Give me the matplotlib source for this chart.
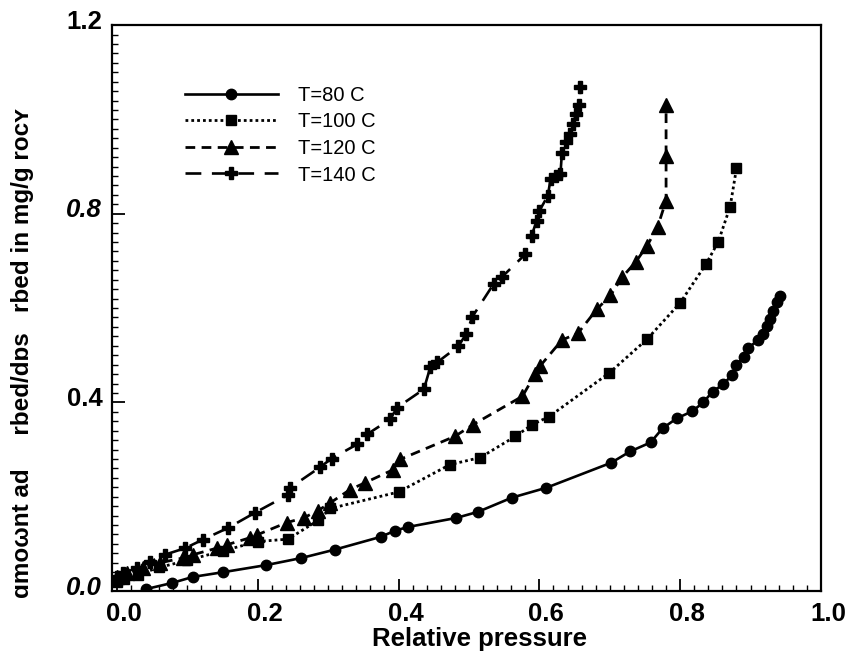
import numpy as np
import matplotlib.pyplot as plt
import matplotlib.transforms as mtransforms
from matplotlib.ticker import MultipleLocator

plt.rcParams['font.family'] = ['Liberation Sans', 'DejaVu Sans']

# T = 80 C
p80 = [0.041, 0.078, 0.108, 0.151, 0.212, 0.262, 0.310, 0.375, 0.395, 0.414,
       0.482, 0.513, 0.561, 0.610, 0.702, 0.729, 0.758, 0.775, 0.795, 0.817,
       0.833, 0.846, 0.861, 0.873, 0.880, 0.890, 0.897, 0.910, 0.917, 0.924,
       0.928, 0.932, 0.937, 0.942]
q80 = [0.004, 0.017, 0.030, 0.040, 0.055, 0.070, 0.088, 0.115, 0.128, 0.136,
       0.155, 0.168, 0.198, 0.219, 0.272, 0.296, 0.315, 0.345, 0.366, 0.381,
       0.400, 0.423, 0.438, 0.457, 0.479, 0.496, 0.515, 0.532, 0.545, 0.562,
       0.577, 0.594, 0.613, 0.626]

# T = 100 C
p100 = [0.000, 0.010, 0.030, 0.060, 0.100, 0.150, 0.200, 0.243, 0.286, 0.303,
        0.400, 0.473, 0.516, 0.566, 0.590, 0.614, 0.699, 0.753, 0.800, 0.837,
        0.854, 0.871, 0.880]
q100 = [0.020, 0.025, 0.035, 0.050, 0.065, 0.085, 0.105, 0.110, 0.150, 0.175,
        0.210, 0.268, 0.283, 0.328, 0.353, 0.370, 0.462, 0.534, 0.611, 0.694,
        0.740, 0.815, 0.896]

# T = 120 C
p120 = [0.000, 0.014, 0.037, 0.061, 0.094, 0.108, 0.142, 0.156, 0.189, 0.199,
        0.241, 0.265, 0.285, 0.303, 0.331, 0.353, 0.392, 0.402, 0.480, 0.506,
        0.576, 0.594, 0.601, 0.632, 0.655, 0.682, 0.701, 0.718, 0.737, 0.753,
        0.768, 0.780, 0.780, 0.780]
q120 = [0.030, 0.038, 0.049, 0.060, 0.070, 0.077, 0.091, 0.098, 0.113, 0.119,
        0.145, 0.155, 0.170, 0.187, 0.215, 0.230, 0.257, 0.279, 0.328, 0.353,
        0.413, 0.460, 0.477, 0.532, 0.547, 0.598, 0.627, 0.666, 0.698, 0.732,
        0.772, 0.828, 0.923, 1.030]

# T = 140 C
p140 = [0.000, 0.009, 0.028, 0.047, 0.068, 0.097, 0.122, 0.158, 0.196, 0.243,
        0.246, 0.288, 0.305, 0.341, 0.355, 0.388, 0.398, 0.436, 0.445, 0.455,
        0.485, 0.496, 0.505, 0.535, 0.547, 0.580, 0.589, 0.596, 0.600, 0.612,
        0.616, 0.623, 0.630, 0.632, 0.638, 0.644, 0.648, 0.652, 0.657, 0.658]
q140 = [0.030, 0.038, 0.049, 0.062, 0.077, 0.091, 0.109, 0.134, 0.166, 0.204,
        0.219, 0.262, 0.281, 0.311, 0.332, 0.364, 0.389, 0.428, 0.474, 0.485,
        0.519, 0.545, 0.582, 0.651, 0.666, 0.714, 0.753, 0.785, 0.806, 0.838,
        0.874, 0.879, 0.885, 0.928, 0.953, 0.970, 0.991, 1.011, 1.030, 1.068]

labels = ['T=80 C', 'T=100 C', 'T=120 C', 'T=140 C']

fig = plt.figure(figsize=(8.46, 6.6), dpi=100)
ax = fig.add_axes([0.1324, 0.1045, 0.838, 0.8575])

ax.plot(p80, q80, '-', color='black', lw=1.9, marker='o', ms=7.5, label=labels[0])
ax.plot(p100, q100, color='black', lw=2.0, ls=(0, (1, 1.1)), marker='s', ms=7,
        label=labels[1])
ax.plot(p120, q120, color='black', lw=2.0, ls=(0, (3.5, 2.3)), marker='^', ms=9.5,
        label=labels[2])
ax.plot(p140, q140, color='black', lw=1.9, ls=(0, (6, 4)), marker='P', ms=9,
        label=labels[3])

ax.set_xlim(-0.007, 1.0)
ax.set_ylim(0.0, 1.2)
ax.xaxis.set_minor_locator(MultipleLocator(0.02))
ax.yaxis.set_minor_locator(MultipleLocator(0.02))
ax.tick_params(which='major', direction='in', length=9, width=1.3, labelsize=18.5)
ax.tick_params(which='minor', direction='in', length=4, width=1.0)
ax.tick_params(top=False, right=False)
ax.set_xticks([0.0, 0.2, 0.4, 0.6, 0.8, 1.0])
xtl = ax.set_xticklabels(['0.0', '0.2', '0.4', '0.6', '0.8', '1.0'], fontweight='bold')
ax.set_yticks([0.0, 0.4, 0.8, 1.2])
ytl = ax.set_yticklabels(['0.0', '0.4', '0.8', '1.2'], fontweight='bold')
ytl[0].set_fontstyle('italic')
ytl[2].set_fontstyle('italic')
ax.tick_params(axis='x', pad=8)
ax.tick_params(axis='y', pad=7)

# scanned labels sit a little off their ticks
dx = mtransforms.ScaledTranslation(7 / 100, 0, fig.dpi_scale_trans)
dy = mtransforms.ScaledTranslation(0, 6 / 100, fig.dpi_scale_trans)
for t in xtl:
    t.set_transform(t.get_transform() + dx)
for t in ytl:
    t.set_transform(t.get_transform() + dy)

for s in ax.spines.values():
    s.set_linewidth(1.6)

ax.set_xlabel('Relative pressure', fontsize=18.5, fontweight='bold')
ax.xaxis.set_label_coords(0.518, -0.063)
ax.set_ylabel('\u0251mo\u03c9nt ad     rbed/d\u0252s   rbed in mg/g roc\u028f',
              fontsize=17.5, fontweight='bold')
ax.yaxis.set_label_coords(-0.11, 0.42)

ax.legend(loc='upper left', bbox_to_anchor=(0.083, 0.918), frameon=False,
          fontsize=14.5, handlelength=4.6, handletextpad=1.0, labelspacing=0.38,
          borderpad=0.2)

fig.savefig('out.png', dpi=100)
